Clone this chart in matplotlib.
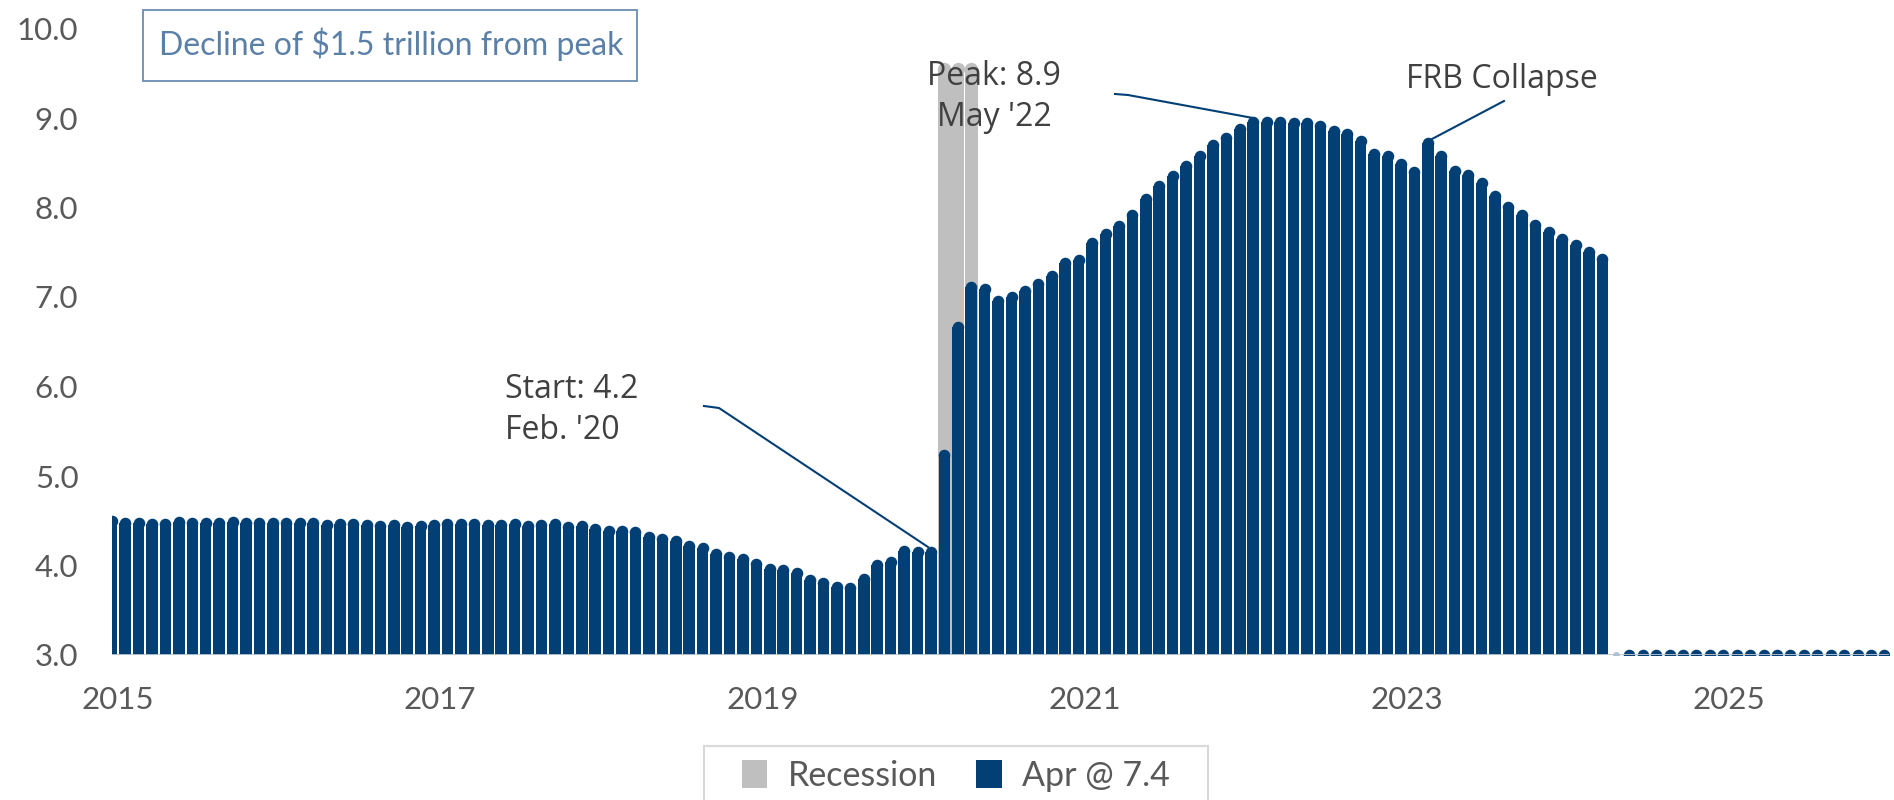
import numpy as np
import pandas as pd
import matplotlib
matplotlib.use("Agg")
import matplotlib.pyplot as plt
from matplotlib.patches import Patch, Rectangle

# ---------------- data ----------------
months = pd.date_range("2015-01-01", "2026-01-01", freq="MS")

# Fed balance sheet, $ trillions, Jan 2015 .. Apr 2024
balance = [
    4.50, 4.48, 4.47, 4.46, 4.46, 4.49, 4.48, 4.47, 4.48, 4.49, 4.47, 4.48,  # 2015
    4.47, 4.48, 4.47, 4.47, 4.45, 4.46, 4.46, 4.45, 4.44, 4.45, 4.43, 4.44,  # 2016
    4.45, 4.46, 4.46, 4.46, 4.45, 4.45, 4.46, 4.44, 4.45, 4.46, 4.43, 4.44,  # 2017
    4.41, 4.38, 4.38, 4.37, 4.32, 4.30, 4.27, 4.22, 4.19, 4.13, 4.09, 4.07,  # 2018
    4.02, 3.96, 3.95, 3.92, 3.84, 3.81, 3.76, 3.75, 3.85, 4.01, 4.04, 4.16,  # 2019
    4.15, 4.15, 5.24, 6.66, 7.11, 7.09, 6.96, 7.00, 7.07, 7.15, 7.23, 7.38,  # 2020
    7.41, 7.60, 7.70, 7.79, 7.92, 8.09, 8.24, 8.35, 8.46, 8.58, 8.70, 8.78,  # 2021
    8.88, 8.95, 8.96, 8.96, 8.94, 8.94, 8.91, 8.85, 8.82, 8.74, 8.60, 8.57,  # 2022
    8.49, 8.40, 8.72, 8.58, 8.41, 8.36, 8.27, 8.13, 8.01, 7.92, 7.81, 7.73,  # 2023
    7.65, 7.58, 7.50, 7.42,                                                  # 2024
]
# months after Apr 2024 have no value yet: plotted at the axis base
future_balance = [3.0] * 21

recession_months = ["2020-03", "2020-04", "2020-05"]
recession_level = [9.55, 9.55, 9.55]

tick_years = ["2015", "2017", "2019", "2021", "2023", "2025"]
y_ticks = [3.0, 4.0, 5.0, 6.0, 7.0, 8.0, 9.0, 10.0]

series_label = "Apr @ 7.4"
recession_label = "Recession"
box_text = "Decline of $1.5 trillion from peak"
peak_text = "Peak: 8.9\nMay '22"
start_text = "Start: 4.2\nFeb. '20"
frb_text = "FRB Collapse"

# ---------------- style ----------------
NAVY = "#023f75"
GREY = "#bfbfbf"
TICK = "#595959"
ANNO = "#404040"
BOXC = "#5b80a8"
BASE = 3.0

W, H = 1894, 800
fig = plt.figure(figsize=(W / 100, H / 100), dpi=100)
px_per_month = 13.43
x_right = (1888.5 - 111.7) / px_per_month
ax = fig.add_axes([111.7 / W, 1 - 655 / H, (1888.5 - 111.7) / W, (655 - 28.5) / H])

x_all = np.arange(len(months))
n = len(balance)
xa = x_all[:n]
xf = x_all[n:n + len(future_balance)]

bw = 0.86
cap_pt = bw * px_per_month * 72 / 100
cap_s = cap_pt ** 2

# recession shading bars
month_index = {m.strftime("%Y-%m"): i for i, m in enumerate(months)}
rx = np.array([month_index[m] for m in recession_months])
rv = np.array(recession_level)
ax.bar(rx, rv - BASE, bottom=BASE, width=0.99, color=GREY, linewidth=0, zorder=2)
rcap = (0.99 * px_per_month * 72 / 100) ** 2
ax.scatter(rx, rv, s=rcap, color=GREY, linewidths=0, zorder=2)

# balance bars with rounded tops
bv = np.array(balance)
ax.bar(xa, bv - BASE, bottom=BASE, width=bw, color=NAVY, linewidth=0, zorder=3)
ax.scatter(xa, bv, s=cap_s, color=NAVY, linewidths=0, zorder=3)

# future placeholders
fv = np.array(future_balance)
ax.scatter(xf[:1], fv[:1], s=cap_s * 0.35, color="#a9bccf", linewidths=0, zorder=3)
ax.scatter(xf[1:], fv[1:], s=cap_s, color=NAVY, linewidths=0, zorder=3)

ax.axhline(BASE, color="#b9c6d3", lw=2.0, zorder=4)

ax.set_xlim(0, x_right)
ax.set_ylim(3.0, 10.0)
for s in ax.spines.values():
    s.set_visible(False)

ax.set_yticks(y_ticks)
ax.set_yticklabels([f"{v:.1f}" for v in y_ticks])
label_shift = 0.45  # category-axis labels sit a little right of the January bar
tick_pos = [month_index[f"{y}-01"] + label_shift for y in tick_years]
ax.set_xticks(tick_pos)
ax.set_xticklabels(tick_years)
ax.tick_params(axis="both", length=0, labelcolor=TICK, labelsize=22.5)
ax.tick_params(axis="y", pad=24)
ax.tick_params(axis="x", pad=22)
for lab in ax.get_xticklabels() + ax.get_yticklabels():
    lab.set_fontfamily("Lato")

# ---------------- annotations ----------------
def px2data(px, py):
    return (px - 111.7) / px_per_month, 3.0 + (655 - py) / 89.5

# Peak
tx, ty = px2data(994, 97)
ax.text(tx, ty, peak_text, ha="center", va="center", fontsize=23,
        family="Open Sans", color=ANNO, linespacing=1.35, zorder=6)
pts = [px2data(1115, 94), px2data(1128, 95), px2data(1253, 118)]
ax.plot([p[0] for p in pts], [p[1] for p in pts], color=NAVY, lw=1.5,
        zorder=6, clip_on=False)

# Start
tx, ty = px2data(505, 410)
ax.text(tx, ty, start_text, ha="left", va="center", fontsize=23,
        family="Open Sans", color=ANNO, linespacing=1.35, zorder=6)
pts = [px2data(704, 406), px2data(719, 408), px2data(928, 547)]
ax.plot([p[0] for p in pts], [p[1] for p in pts], color=NAVY, lw=1.5, zorder=6)

# FRB collapse
tx, ty = px2data(1502, 80)
ax.text(tx, ty, frb_text, ha="center", va="center", fontsize=23,
        family="Open Sans", color=ANNO, zorder=6)
pts = [px2data(1504, 101), px2data(1432, 139)]
ax.plot([p[0] for p in pts], [p[1] for p in pts], color=NAVY, lw=1.5, zorder=6)

# Box text
fig.patches.append(Rectangle((143 / W, 1 - 81 / H), (637 - 143) / W, (81 - 10) / H,
                             transform=fig.transFigure, fill=False,
                             edgecolor="#6a8db3", lw=1.3))
fig.text(391 / W, 1 - 44 / H, box_text, ha="center", va="center",
         fontsize=23, family="Lato", color=BOXC)

# ---------------- legend ----------------
fig.patches.append(Rectangle((704 / W, -0.05), (1208 - 704) / W, 1 - 746 / H + 0.05,
                             transform=fig.transFigure, fill=False,
                             edgecolor="#d9d9d9", lw=1.5))
handles = [Patch(facecolor=GREY, edgecolor="none", label=recession_label),
           Patch(facecolor=NAVY, edgecolor="none", label=series_label)]
leg = fig.legend(handles=handles, loc="center", ncol=2,
                 bbox_to_anchor=(956 / W, 1 - 776 / H), frameon=False,
                 prop={"family": "Lato", "size": 24.5},
                 handlelength=0.75, handleheight=0.9, handletextpad=0.6,
                 columnspacing=1.15, borderpad=0.0, borderaxespad=0.0)
for t in leg.get_texts():
    t.set_color(TICK)

fig.savefig("out.png", dpi=100)
